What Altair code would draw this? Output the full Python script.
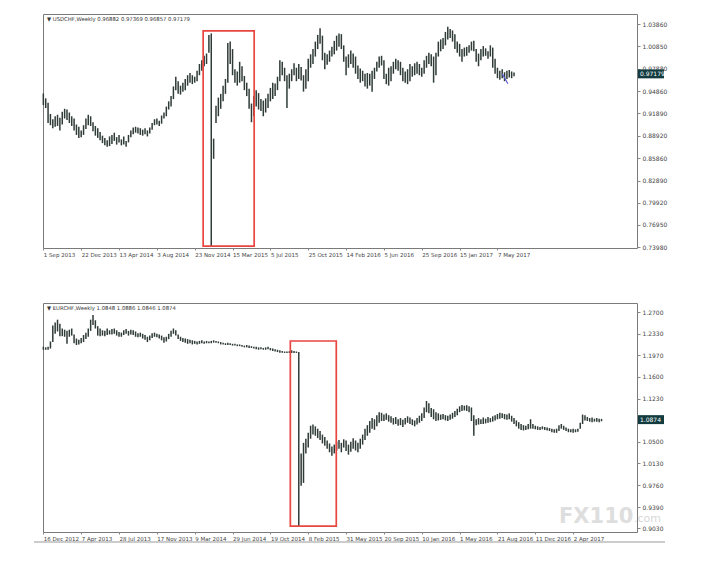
import pandas as pd
import altair as alt

# USDCHF weekly bars (high / low), first week 1 Sep 2013
usd_start = "2013-09-01"
usd_hi = [0.9455, 0.9390, 0.9330, 0.9180, 0.9110, 0.9150, 0.9170, 0.9130, 0.9210, 0.9250,
          0.9240, 0.9200, 0.9150, 0.9120, 0.9040, 0.9010, 0.8960, 0.9030, 0.9120, 0.9170,
          0.9150, 0.9070, 0.9020, 0.8990, 0.8940, 0.8890, 0.8860, 0.8830, 0.8880, 0.8900,
          0.8930, 0.8870, 0.8900, 0.8840, 0.8880, 0.8820, 0.8900, 0.8960, 0.9000, 0.9010,
          0.9000, 0.8990, 0.8970, 0.8990, 0.8960, 0.9000, 0.9060, 0.9110, 0.9120, 0.9090,
          0.9160, 0.9200, 0.9280, 0.9350, 0.9420, 0.9550, 0.9680, 0.9620, 0.9560, 0.9600,
          0.9650, 0.9700, 0.9730, 0.9700, 0.9680, 0.9760, 0.9850, 0.9900, 0.9960, 0.9990,
          1.0240, 1.0260, 0.8850, 0.9290, 0.9400, 0.9450, 0.9560, 0.9650, 1.0130, 1.0150,
          1.0050, 0.9780, 0.9750, 0.9880, 0.9820, 0.9690, 0.9600, 0.9520, 0.9320, 0.9420,
          0.9500, 0.9460, 0.9380, 0.9360, 0.9390, 0.9450, 0.9530, 0.9600, 0.9590, 0.9680,
          0.9900, 0.9880, 0.9800, 0.9700, 0.9720, 0.9780, 0.9860, 0.9800, 0.9850, 0.9810,
          0.9700, 0.9780, 0.9920, 0.9980, 1.0050, 1.0150, 1.0240, 1.0330, 1.0230, 1.0000,
          0.9980, 1.0030, 1.0080, 1.0160, 1.0230, 1.0260, 1.0250, 1.0100, 0.9950, 0.9980,
          1.0030, 0.9990, 0.9950, 0.9830, 0.9790, 0.9760, 0.9720, 0.9730, 0.9720, 0.9760,
          0.9800, 0.9880, 0.9950, 0.9960, 0.9900, 0.9720, 0.9800, 0.9820, 0.9880, 0.9920,
          0.9900, 0.9880, 0.9800, 0.9750, 0.9780, 0.9850, 0.9820, 0.9860, 0.9880, 0.9850,
          0.9800, 0.9900, 0.9960, 1.0000, 0.9980, 0.9950, 1.0000, 1.0150, 1.0180, 1.0200,
          1.0280, 1.0350, 1.0320, 1.0300, 1.0250, 1.0150, 1.0120, 1.0050, 1.0070, 1.0080,
          1.0100, 1.0150, 1.0160, 1.0050, 0.9990, 1.0050, 1.0090, 1.0060, 1.0020, 1.0100,
          1.0070, 0.9920, 0.9800, 0.9760, 0.9780, 0.9740, 0.9760, 0.9770, 0.9750, 0.9737]
usd_lo = [0.9300, 0.9260, 0.9060, 0.9030, 0.8990, 0.9010, 0.9020, 0.8960, 0.9040, 0.9120,
          0.9100, 0.9060, 0.9020, 0.8960, 0.8900, 0.8860, 0.8870, 0.8900, 0.8980, 0.9030,
          0.9020, 0.8950, 0.8890, 0.8860, 0.8830, 0.8790, 0.8760, 0.8740, 0.8750, 0.8780,
          0.8820, 0.8770, 0.8800, 0.8760, 0.8770, 0.8740, 0.8800, 0.8870, 0.8910, 0.8930,
          0.8920, 0.8900, 0.8890, 0.8910, 0.8880, 0.8920, 0.8970, 0.9030, 0.9040, 0.9020,
          0.9050, 0.9120, 0.9150, 0.9240, 0.9280, 0.9380, 0.9500, 0.9450, 0.9440, 0.9480,
          0.9500, 0.9560, 0.9600, 0.9580, 0.9600, 0.9620, 0.9700, 0.9760, 0.9820, 0.9850,
          1.0000, 0.7400, 0.8580, 0.9060, 0.9150, 0.9250, 0.9350, 0.9450, 0.9600, 0.9850,
          0.9700, 0.9600, 0.9560, 0.9600, 0.9620, 0.9500, 0.9420, 0.9250, 0.9070, 0.9150,
          0.9280, 0.9240, 0.9220, 0.9150, 0.9200, 0.9260, 0.9350, 0.9380, 0.9420, 0.9500,
          0.9620, 0.9700, 0.9620, 0.9260, 0.9520, 0.9620, 0.9700, 0.9620, 0.9650, 0.9630,
          0.9480, 0.9520, 0.9620, 0.9800, 0.9850, 0.9950, 1.0050, 1.0120, 0.9900, 0.9780,
          0.9840, 0.9880, 0.9950, 0.9980, 1.0030, 1.0080, 1.0050, 0.9880, 0.9700, 0.9800,
          0.9850, 0.9800, 0.9720, 0.9650, 0.9600, 0.9620, 0.9550, 0.9520, 0.9560, 0.9480,
          0.9650, 0.9750, 0.9800, 0.9830, 0.9650, 0.9580, 0.9560, 0.9620, 0.9720, 0.9780,
          0.9760, 0.9700, 0.9620, 0.9600, 0.9580, 0.9620, 0.9680, 0.9700, 0.9720, 0.9700,
          0.9680, 0.9720, 0.9800, 0.9850, 0.9820, 0.9600, 0.9700, 0.9950, 1.0020, 1.0050,
          1.0100, 1.0180, 1.0200, 1.0150, 1.0050, 1.0000, 0.9950, 0.9880, 0.9950, 0.9960,
          1.0000, 1.0030, 1.0020, 0.9880, 0.9820, 0.9900, 0.9950, 0.9960, 0.9920, 0.9950,
          0.9800, 0.9720, 0.9660, 0.9640, 0.9660, 0.9620, 0.9650, 0.9670, 0.9660, 0.9686]

# EURCHF weekly bars (high / low), first week 16 Dec 2012
eur_start = "2012-12-16"
eur_hi = [1.2110, 1.2100, 1.2110, 1.2200, 1.2470, 1.2520, 1.2570, 1.2500, 1.2420, 1.2400,
          1.2380, 1.2400, 1.2420, 1.2320, 1.2250, 1.2230, 1.2260, 1.2310, 1.2350, 1.2420,
          1.2570, 1.2650, 1.2560, 1.2460, 1.2420, 1.2390, 1.2380, 1.2420, 1.2390, 1.2410,
          1.2420, 1.2390, 1.2360, 1.2350, 1.2390, 1.2410, 1.2380, 1.2400, 1.2390, 1.2370,
          1.2340, 1.2350, 1.2330, 1.2310, 1.2280, 1.2300, 1.2340, 1.2350, 1.2330, 1.2320,
          1.2300, 1.2270, 1.2280, 1.2330, 1.2380, 1.2420, 1.2390, 1.2320, 1.2280, 1.2260,
          1.2250, 1.2240, 1.2230, 1.2220, 1.2210, 1.2200, 1.2210, 1.2220, 1.2200, 1.2210,
          1.2200, 1.2210, 1.2220, 1.2210, 1.2200, 1.2190, 1.2180, 1.2170, 1.2180, 1.2170,
          1.2160, 1.2160, 1.2150, 1.2150, 1.2140, 1.2130, 1.2140, 1.2130, 1.2120, 1.2110,
          1.2110, 1.2100, 1.2100, 1.2090, 1.2100, 1.2110, 1.2090, 1.2080, 1.2070, 1.2060,
          1.2050, 1.2040, 1.2030, 1.2030, 1.2035, 1.2050, 1.2040, 1.2030, 1.2020, 1.0300,
          1.0480, 1.0550, 1.0650, 1.0770, 1.0790, 1.0760, 1.0720, 1.0680, 1.0620, 1.0580,
          1.0520, 1.0470, 1.0420, 1.0450, 1.0500, 1.0530, 1.0480, 1.0540, 1.0520, 1.0450,
          1.0500, 1.0560, 1.0520, 1.0480, 1.0550, 1.0620, 1.0720, 1.0780, 1.0850, 1.0900,
          1.0880, 1.0950, 1.1000, 1.0990, 1.0960, 1.0980, 1.0950, 1.0930, 1.0900, 1.0920,
          1.0880, 1.0900, 1.0870, 1.0900, 1.0930, 1.0910, 1.0880, 1.0860, 1.0900, 1.0940,
          1.0980, 1.1080, 1.1190, 1.1150, 1.1070, 1.1050, 1.1000, 1.0980, 1.0960, 1.0970,
          1.0950, 1.0940, 1.0960, 1.0990, 1.1020, 1.1060, 1.1100, 1.1120, 1.1110, 1.1120,
          1.1100, 1.1080, 1.0950, 1.0880, 1.0900, 1.0880, 1.0910, 1.0890, 1.0920, 1.0900,
          1.0930, 1.0950, 1.0970, 1.0990, 1.0980, 1.0970, 1.0960, 1.0980, 1.0940, 1.0900,
          1.0860, 1.0830, 1.0800, 1.0780, 1.0770, 1.0800, 1.0880, 1.0800, 1.0770, 1.0760,
          1.0750, 1.0760, 1.0750, 1.0740, 1.0730, 1.0720, 1.0710, 1.0720, 1.0780, 1.0800,
          1.0770, 1.0740, 1.0720, 1.0710, 1.0720, 1.0710, 1.0720, 1.0820, 1.0960, 1.0950,
          1.0920, 1.0900, 1.0910, 1.0890, 1.0900, 1.0890, 1.0886]
eur_lo = [1.2060, 1.2060, 1.2060, 1.2080, 1.2190, 1.2330, 1.2370, 1.2290, 1.2290, 1.2280,
          1.2160, 1.2280, 1.2300, 1.2170, 1.2140, 1.2150, 1.2170, 1.2190, 1.2240, 1.2280,
          1.2380, 1.2480, 1.2420, 1.2300, 1.2290, 1.2300, 1.2290, 1.2310, 1.2320, 1.2320,
          1.2330, 1.2300, 1.2280, 1.2280, 1.2310, 1.2330, 1.2300, 1.2320, 1.2310, 1.2280,
          1.2270, 1.2280, 1.2250, 1.2230, 1.2190, 1.2220, 1.2260, 1.2280, 1.2270, 1.2250,
          1.2220, 1.2180, 1.2200, 1.2240, 1.2280, 1.2330, 1.2300, 1.2240, 1.2210, 1.2190,
          1.2180, 1.2160, 1.2170, 1.2150, 1.2160, 1.2150, 1.2160, 1.2170, 1.2160, 1.2170,
          1.2170, 1.2170, 1.2180, 1.2180, 1.2170, 1.2150, 1.2150, 1.2140, 1.2140, 1.2140,
          1.2130, 1.2130, 1.2120, 1.2120, 1.2110, 1.2100, 1.2100, 1.2090, 1.2090, 1.2080,
          1.2070, 1.2060, 1.2070, 1.2060, 1.2060, 1.2070, 1.2050, 1.2040, 1.2030, 1.2020,
          1.2010, 1.2010, 1.2005, 1.2005, 1.2005, 1.2005, 1.2005, 1.2005, 0.9050, 0.9750,
          0.9800, 1.0300, 1.0400, 1.0550, 1.0620, 1.0600, 1.0560, 1.0530, 1.0470, 1.0430,
          1.0380, 1.0320, 1.0260, 1.0300, 1.0350, 1.0380, 1.0320, 1.0400, 1.0340, 1.0280,
          1.0330, 1.0380, 1.0350, 1.0320, 1.0380, 1.0450, 1.0530, 1.0600, 1.0650, 1.0720,
          1.0700, 1.0760, 1.0820, 1.0850, 1.0850, 1.0870, 1.0840, 1.0820, 1.0790, 1.0800,
          1.0770, 1.0780, 1.0750, 1.0790, 1.0820, 1.0800, 1.0780, 1.0760, 1.0790, 1.0820,
          1.0850, 1.0900, 1.1000, 1.0980, 1.0920, 1.0880, 1.0850, 1.0860, 1.0870, 1.0880,
          1.0860, 1.0850, 1.0870, 1.0890, 1.0920, 1.0950, 1.1000, 1.1020, 1.1030, 1.1020,
          1.1000, 1.0850, 1.0600, 1.0780, 1.0790, 1.0800, 1.0800, 1.0810, 1.0820, 1.0830,
          1.0840, 1.0860, 1.0880, 1.0890, 1.0900, 1.0880, 1.0870, 1.0880, 1.0840, 1.0800,
          1.0760, 1.0720, 1.0700, 1.0690, 1.0700, 1.0710, 1.0720, 1.0720, 1.0710, 1.0700,
          1.0700, 1.0710, 1.0700, 1.0690, 1.0680, 1.0660, 1.0650, 1.0650, 1.0680, 1.0720,
          1.0700, 1.0680, 1.0660, 1.0660, 1.0650, 1.0660, 1.0670, 1.0720, 1.0800, 1.0860,
          1.0850, 1.0840, 1.0830, 1.0840, 1.0840, 1.0830, 1.0846]

# axis labels
usd_xticks = ["2013-09-01", "2013-12-22", "2014-04-13", "2014-08-03", "2014-11-23",
              "2015-03-15", "2015-07-05", "2015-10-25", "2016-02-14", "2016-06-05",
              "2016-09-25", "2017-01-15", "2017-05-07"]
eur_xticks = ["2012-12-16", "2013-04-07", "2013-07-28", "2013-11-17", "2014-03-09",
              "2014-06-29", "2014-10-19", "2015-02-08", "2015-05-31", "2015-09-20",
              "2016-01-10", "2016-05-01", "2016-08-21", "2016-12-11", "2017-04-02"]
usd_yticks = [1.0386, 1.0085, 0.9788, 0.9486, 0.9189, 0.8892, 0.8586, 0.8289, 0.7992, 0.7695, 0.7398]
eur_yticks = [1.2700, 1.2330, 1.1970, 1.1600, 1.1230, 1.0860, 1.0500, 1.0130, 0.9760, 0.9390, 0.9030]

usd_header = "\u25BC USDCHF,Weekly  0.96882 0.97369 0.96857 0.97179"
eur_header = "\u25BC EURCHF,Weekly  1.0848 1.0886 1.0846 1.0874"
usd_price, usd_price_txt = 0.97179, "0.97179"
eur_price, eur_price_txt = 1.0874, "1.0874"

# red boxes round the January 2015 move: from, to, top, bottom
usd_box = ["2014-12-18", "2015-05-18", 1.0293, 0.7410]
eur_box = ["2014-12-17", "2015-05-02", 1.2208, 0.9068]
# short blue trend line at the end of USDCHF
usd_trend = ["2017-05-21", "2017-06-07", 0.9719, 0.9585]

W = 594
BAR = "#2f3b37"
RED = "#e8463f"
FONT = "DejaVu Sans"


def dt(s):
    y, m, d = (int(v) for v in s.split("-"))
    return alt.DateTime(year=y, month=m, date=d, utc=True)


def panel(start, hi, lo, xticks, yticks, yfmt, xdom, ydom, H, header, price, price_txt, box, box_pad):
    df = pd.DataFrame({
        "date": pd.date_range(start, periods=len(hi), freq="7D").strftime("%Y-%m-%d"),
        "hi": hi, "lo": lo,
    })
    xscale = alt.Scale(type="utc", domain=[dt(xdom[0]), dt(xdom[1])])
    yscale = alt.Scale(domain=ydom, zero=False, nice=False)

    bars = alt.Chart(df).mark_rule(color=BAR, strokeWidth=1.5).encode(
        x=alt.X("date:T", scale=xscale, axis=alt.Axis(
            values=[dt(s) for s in xticks], tickCount=len(xticks) + 2,
            format="%-d %b %Y", labelAlign="left",
            labelFontSize=5.5, labelColor="#444", labelFont=FONT, tickSize=2, tickColor="#888",
            domain=False, grid=False, title=None, labelPadding=2, labelOverlap=False)),
        y=alt.Y("lo:Q", scale=yscale, axis=alt.Axis(
            orient="right", values=yticks, tickCount=len(yticks) + 2, format=yfmt,
            labelFontSize=6, labelColor="#444",
            labelFont=FONT, tickSize=3, tickColor="#888", domain=False, grid=False,
            title=None, labelPadding=2, labelOverlap=False)),
        y2="hi:Q",
    )

    bdf = pd.DataFrame({"x": [box[0]], "x2": [box[1]], "y": [box[2]], "y2": [box[3]]})
    rect = alt.Chart(bdf).mark_rect(fillOpacity=0, stroke=RED, strokeWidth=1.7).encode(
        x=alt.X("x:T", title=None), x2="x2:T",
        y=alt.Y("y:Q", title=None), y2="y2:Q",
    )

    hdf = pd.DataFrame({"t": [header]})
    head = alt.Chart(hdf).mark_text(align="left", baseline="middle", fontSize=5.3,
                                    font=FONT, color="#333").encode(
        x=alt.value(4), y=alt.value(5), text="t:N")

    pdf = pd.DataFrame({"p": [price], "t": [price_txt]})
    pbox = alt.Chart(pdf).transform_calculate(
        top=f"datum.p + {box_pad}", bot=f"datum.p - {box_pad}"
    ).mark_rect(color="#123c40").encode(
        x=alt.value(W + 1), x2=alt.value(W + 27),
        y=alt.Y("top:Q", title=None), y2="bot:Q")
    ptxt = alt.Chart(pdf).mark_text(align="left", baseline="middle", fontSize=6,
                                    font=FONT, color="white").encode(
        x=alt.value(W + 3), y=alt.Y("p:Q", title=None), text="t:N")

    return [bars, rect, head, pbox, ptxt], H


usd_layers, usd_H = panel(usd_start, usd_hi, usd_lo, usd_xticks, usd_yticks, ".5f",
                          ["2013-08-31", "2018-06-24"], [0.7385, 1.0520], 234,
                          usd_header, usd_price, usd_price_txt, usd_box, 0.006)
tdf = pd.DataFrame({"x": [usd_trend[0]], "x2": [usd_trend[1]], "y": [usd_trend[2]], "y2": [usd_trend[3]]})
trend = alt.Chart(tdf).mark_rule(color="#5b5bd6", strokeWidth=1.2).encode(
    x=alt.X("x:T", title=None), x2="x2:T", y=alt.Y("y:Q", title=None), y2="y2:Q")
top = alt.layer(*usd_layers, trend).properties(width=W, height=usd_H)

eur_layers, eur_H = panel(eur_start, eur_hi, eur_lo, eur_xticks, eur_yticks, ".4f",
                          ["2012-12-15", "2017-10-08"], [0.8967, 1.2853], 229,
                          eur_header, eur_price, eur_price_txt, eur_box, 0.0076)
one = pd.DataFrame({"t": ["FX110"]})
mark1 = alt.Chart(one).mark_text(align="left", baseline="middle", fontSize=21, fontWeight="bold",
                                 font=FONT, color="#dedede").encode(
    x=alt.value(516), y=alt.value(214), text="t:N")
mark2 = alt.Chart(pd.DataFrame({"t": [".com"]})).mark_text(
    align="left", baseline="middle", fontSize=11, font=FONT, color="#d8d8d8").encode(
    x=alt.value(591), y=alt.value(216), text="t:N")
edge = alt.Chart(one).mark_rule(color="#9a9a9a", strokeWidth=1.2).encode(
    x=alt.value(-9), x2=alt.value(W + 28), y=alt.value(eur_H + 10))
bottom = alt.layer(mark1, mark2, *eur_layers, edge).properties(width=W, height=eur_H)

chart = alt.vconcat(top, bottom, spacing=55, bounds="flush").properties(
    padding={"left": 24, "top": 5, "right": 5, "bottom": 5},
    background="white",
).configure_view(
    stroke="#7a7a7a", strokeWidth=1
).configure_axis(labelOverlap=False)

chart.save("out.html", embed_options={"renderer": "svg", "actions": False})
